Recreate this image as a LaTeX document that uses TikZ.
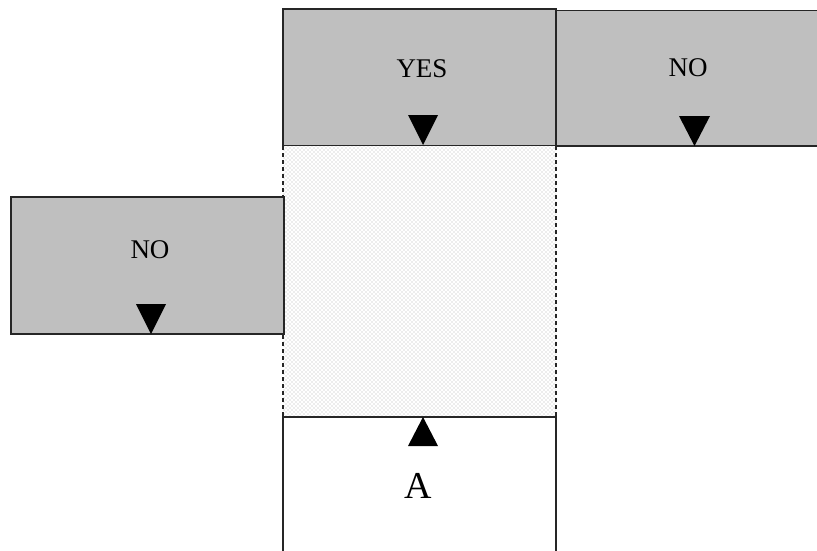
\documentclass[tikz,border=0pt]{standalone}
\usepackage{fontspec}
\setmainfont{Liberation Serif}
\usetikzlibrary{patterns}
\pgfdeclarepatternformonly{sparsedots}{\pgfqpoint{-1pt}{-1pt}}{\pgfqpoint{5pt}{5pt}}{\pgfqpoint{4pt}{4pt}}%
{\pgfpathcircle{\pgfqpoint{0pt}{0pt}}{0.7pt}\pgfpathcircle{\pgfqpoint{2pt}{2pt}}{0.7pt}\pgfusepath{fill}}
\begin{document}
\begin{tikzpicture}[x=1pt,y=-1pt,
  box/.style={draw=black!85,line width=1.1pt,fill=black!25},
  wbox/.style={draw=black!85,line width=1.1pt,fill=white},
  lbl/.style={font=\fontsize{27}{29}\selectfont,inner sep=0pt},
  albl/.style={font=\fontsize{38}{40}\selectfont,inner sep=0pt},
  tri/.style={fill=black}]
\useasboundingbox (0,0) rectangle (817,550);
% stippled region
\fill[white] (283,146) rectangle (556,417);
\fill[pattern=sparsedots,pattern color=black!30] (283,146) rectangle (556,417);
\draw[black!85,line width=1.1pt,dash pattern=on 4pt off 3pt] (283,146) -- (283,417);
\draw[black!85,line width=1.1pt,dash pattern=on 4pt off 3pt] (556,146) -- (556,417);
% boxes
\draw[box] (283,9) rectangle (556,145.5);
\node[lbl] (yes) at (422,69) {YES};
\draw[box] (556,10.5) rectangle (819,146);
\node[lbl] (no1) at (688,68) {NO};
\draw[box] (11,197) rectangle (284,334);
\node[lbl] (no2) at (150,250) {NO};
\draw[wbox] (283,417) rectangle (556,553);
\node[albl] (a) at (418,486) {A};
% triangles
\fill[tri] (408,115) -- (438,115) -- (423,145) -- cycle;
\fill[tri] (679,116) -- (710,116) -- (694.5,146) -- cycle;
\fill[tri] (136,304) -- (166,304) -- (151,334) -- cycle;
\fill[tri] (408,446) -- (438,446) -- (423,417) -- cycle;
\end{tikzpicture}
\end{document}
